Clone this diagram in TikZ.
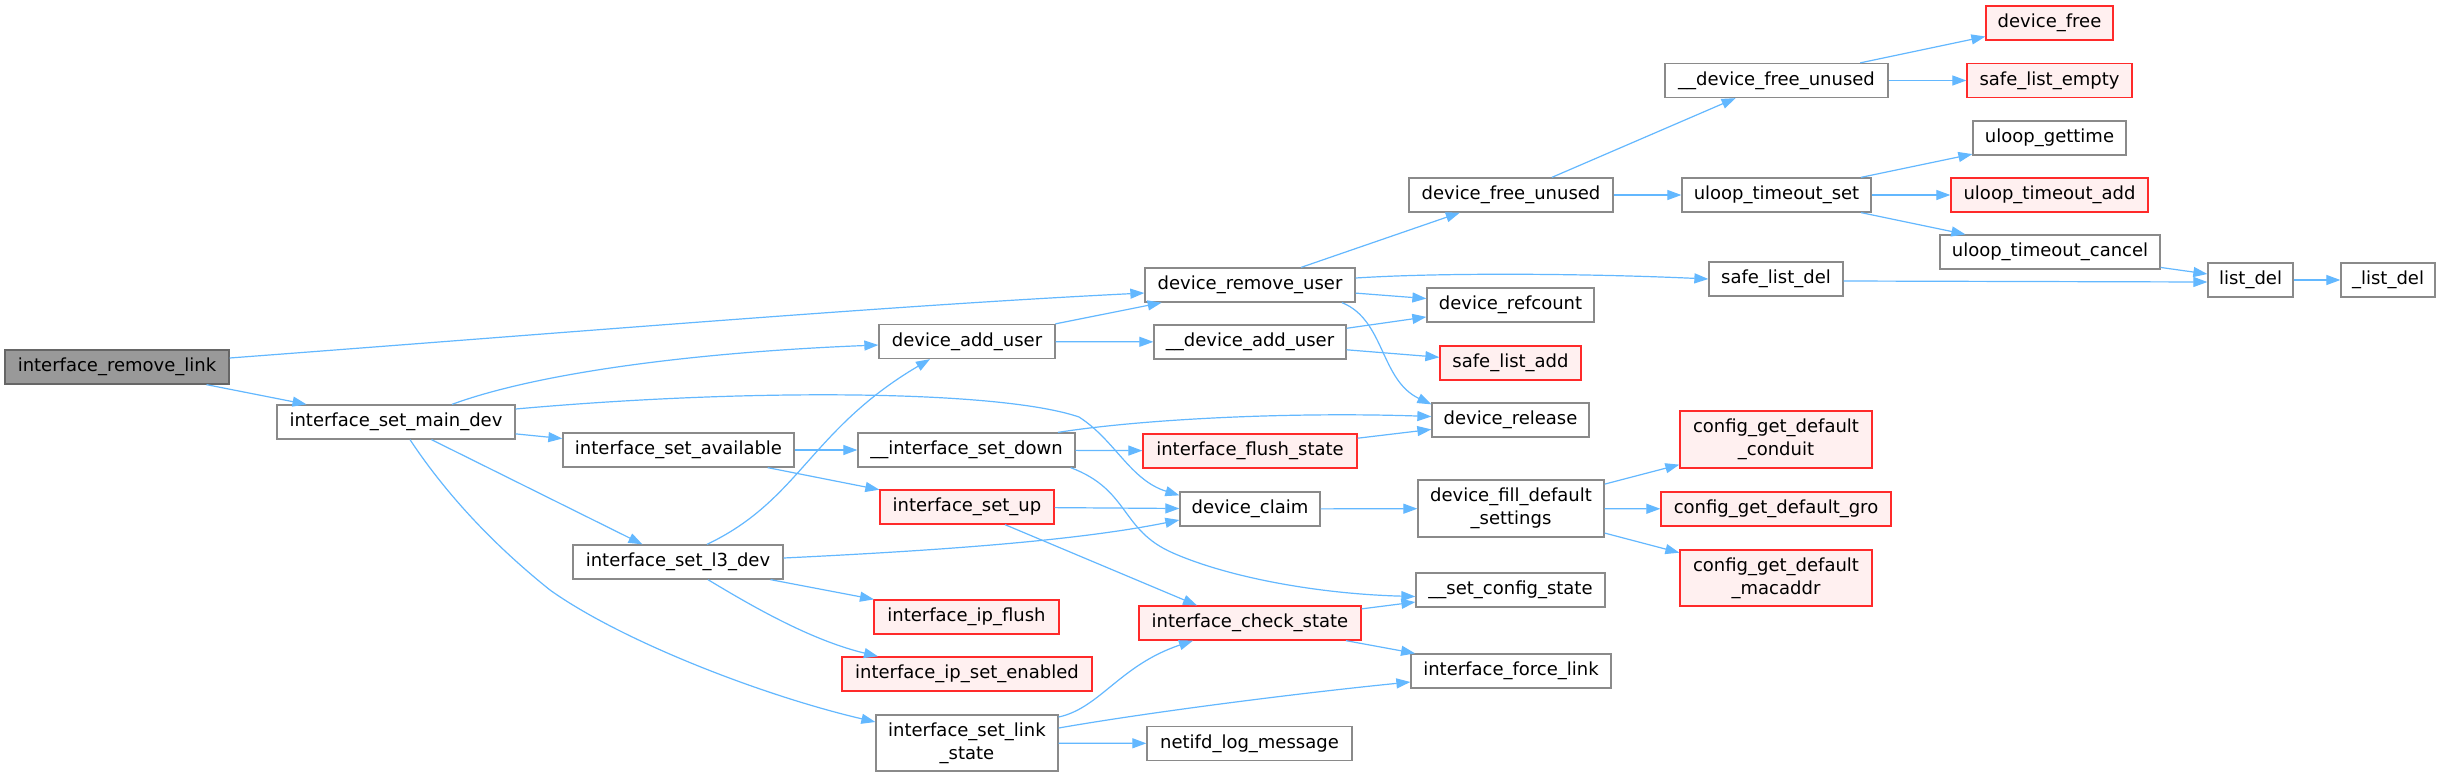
\documentclass[tikz,border=0pt]{standalone}
\usepackage{fontspec}
\setmainfont{DejaVu Sans}
\usetikzlibrary{arrows.meta}
\definecolor{edgeblue}{HTML}{63B8FF}
\definecolor{boxgray}{HTML}{8A8A8A}
\definecolor{redfill}{HTML}{FFF0F0}
\definecolor{redline}{HTML}{FF2A2A}
\definecolor{rootfill}{HTML}{999999}
\definecolor{rootdraw}{HTML}{666666}
\newcommand\nodefont{\fontsize{18pt}{23pt}\selectfont}
\tikzset{
  fnbox/.style={draw=boxgray, fill=white, line width=1.3pt, inner sep=0pt,
    minimum height=34pt, font=\nodefont, align=center, text=black},
  fnred/.style={fnbox, draw=redline, fill=redfill},
  rootbox/.style={fnbox, fill=rootfill, draw=rootdraw},
  callarrow/.style={draw=edgeblue, line width=1.2pt, -{Triangle[length=14pt,width=10pt]}},
}
\begin{document}
\begin{tikzpicture}[x=1pt,y=-1pt]
\useasboundingbox[fill=white] (0,0) rectangle (2441,777);
% column 0-2
\node[rootbox, minimum width=224pt] (rl) at (117,367) {interface\_remove\_link};
\node[fnbox, minimum width=238pt] (md) at (396,422) {interface\_set\_main\_dev};
\node[fnbox, minimum width=231pt] (sa) at (678.5,450) {interface\_set\_available};
\node[fnbox, minimum width=210pt] (l3) at (678,562) {interface\_set\_l3\_dev};
% column 3
\node[fnbox, minimum width=176pt] (dau) at (967,341.5) {device\_add\_user};
\node[fnbox, minimum width=217pt] (isd) at (966.5,450) {\_\_interface\_set\_down};
\node[fnred, minimum width=174pt] (isu) at (967,507) {interface\_set\_up};
\node[fnred, minimum width=185pt] (ipf) at (966.5,617) {interface\_ip\_flush};
\node[fnred, minimum width=250pt] (ipse) at (967,674) {interface\_ip\_set\_enabled};
\node[fnbox, minimum width=182pt, minimum height=56pt] (ls) at (967,743) {interface\_set\_link\\\_state};
% column 4
\node[fnbox, minimum width=210pt] (drm) at (1250,285) {device\_remove\_user};
\node[fnbox, minimum width=192pt] (dau2) at (1250,342) {\_\_device\_add\_user};
\node[fnred, minimum width=214pt] (ifs) at (1250,451) {interface\_flush\_state};
\node[fnbox, minimum width=140pt] (dc) at (1250,509) {device\_claim};
\node[fnred, minimum width=222pt] (ics) at (1250,623) {interface\_check\_state};
\node[fnbox, minimum width=205pt] (nlm) at (1249.5,743.5) {netifd\_log\_message};
% column 5
\node[fnbox, minimum width=204pt] (dfu) at (1511,195) {device\_free\_unused};
\node[fnbox, minimum width=167pt] (drc) at (1510.5,305) {device\_refcount};
\node[fnred, minimum width=141pt] (sla) at (1510.5,363) {safe\_list\_add};
\node[fnbox, minimum width=157pt] (drel) at (1510.5,420) {device\_release};
\node[fnbox, minimum width=186pt, minimum height=57pt] (dfds) at (1511,508.5) {device\_fill\_default\\\_settings};
\node[fnbox, minimum width=189pt] (scs) at (1510.5,590) {\_\_set\_config\_state};
\node[fnbox, minimum width=200pt] (ifl) at (1511,671) {interface\_force\_link};
% column 6
\node[fnbox, minimum width=223pt] (dfu2) at (1776.5,80.5) {\_\_device\_free\_unused};
\node[fnbox, minimum width=189pt] (uts) at (1776.5,195) {uloop\_timeout\_set};
\node[fnbox, minimum width=134pt] (sld) at (1776,279) {safe\_list\_del};
\node[fnred, minimum width=192pt, minimum height=57pt] (cgc) at (1776,439.5) {config\_get\_default\\\_conduit};
\node[fnred, minimum width=230pt] (cgg) at (1776,509) {config\_get\_default\_gro};
\node[fnred, minimum width=192pt, minimum height=56pt] (cgm) at (1776,578) {config\_get\_default\\\_macaddr};
% column 7
\node[fnred, minimum width=127pt] (dfree) at (2049.5,23) {device\_free};
\node[fnred, minimum width=165pt] (sle) at (2049.5,80.5) {safe\_list\_empty};
\node[fnbox, minimum width=153pt] (ugt) at (2049.5,138) {uloop\_gettime};
\node[fnred, minimum width=197pt] (uta) at (2049.5,195) {uloop\_timeout\_add};
\node[fnbox, minimum width=220pt] (utc) at (2050,252) {uloop\_timeout\_cancel};
% column 8-9
\node[fnbox, minimum width=85pt] (ld) at (2250.5,280) {list\_del};
\node[fnbox, minimum width=94pt] (uld) at (2388,280) {\_list\_del};
% edges
\draw[callarrow] ([yshift=9pt]rl.east) .. controls (600,330) and (900,305) .. ([yshift=-8pt]drm.west);
\draw[callarrow] (rl) -- (md);
\draw[callarrow] ([xshift=56pt]md.north) .. controls (540,372) and (700,352) .. ([yshift=-3.5pt]dau.west);
\draw[callarrow] ([yshift=13pt]md.east) .. controls (750,388) and (1000,390) .. (1079,417)
   .. controls (1115,440) and (1130,480) .. ([yshift=-4pt]dc.north west);
\draw[callarrow] (md) -- (sa);
\draw[callarrow] (md) -- (l3);
\draw[callarrow] ([xshift=14pt]md.south) .. controls (450,500) and (500,550) .. (550,590)
   .. controls (620,640) and (760,695) .. ([yshift=21pt]ls.west);
\draw[callarrow] (sa) -- (isd);
\draw[callarrow] (sa) -- (isu);
\draw[callarrow] ([xshift=29pt]l3.north) .. controls (800,500) and (810,430) .. ([xshift=-37pt]dau.south);
\draw[callarrow] ([yshift=4pt]l3.east) .. controls (950,550) and (1080,540) .. ([yshift=-11pt]dc.west);
\draw[callarrow] (l3) -- (ipf);
\draw[callarrow] ([xshift=30pt]l3.south) .. controls (750,605) and (810,640) .. ([xshift=-89pt]ipse.north);
\draw[callarrow] (dau) -- (drm);
\draw[callarrow] (dau) -- (dau2);
\draw[callarrow] (drm) -- (dfu);
\draw[callarrow] ([yshift=7pt]drm.east) .. controls (1450,272) and (1600,274) .. (sld.west);
\draw[callarrow] (drm) -- (drc);
\draw[callarrow] ([xshift=92pt]drm.south) .. controls (1385,320) and (1380,380) .. ([yshift=-2pt]drel.north west);
\draw[callarrow] (dau2) -- (drc);
\draw[callarrow] (dau2) -- (sla);
\draw[callarrow] ([xshift=91.5pt]isd.north) .. controls (1150,418) and (1300,412) .. ([yshift=3.5pt]drel.west);
\draw[callarrow] (isd) -- (ifs);
\draw[callarrow] ([xshift=-5pt]isd.south east) .. controls (1130,490) and (1120,530) .. (1173,553)
   .. controls (1230,578) and (1320,594) .. ([yshift=-6.5pt]scs.west);
\draw[callarrow] (ifs) -- (drel);
\draw[callarrow] (isu) -- (dc);
\draw[callarrow] ([xshift=38pt]isu.south) -- ([xshift=-53pt]ics.north);
\draw[callarrow] (dc) -- (dfds);
\draw[callarrow] (dfds) -- (cgc);
\draw[callarrow] (dfds) -- (cgg);
\draw[callarrow] (dfds) -- (cgm);
\draw[callarrow] (ics) -- (scs);
\draw[callarrow] (ics) -- (ifl);
\draw[callarrow] ([yshift=26pt]ls.east) .. controls (1100,708) and (1120,665) .. ([xshift=-57pt]ics.south);
\draw[callarrow] ([yshift=15pt]ls.east) .. controls (1150,712) and (1300,693) .. ([yshift=-11pt]ifl.west);
\draw[callarrow] (ls) -- (nlm);
\draw[callarrow] (dfu) -- (dfu2);
\draw[callarrow] (dfu) -- (uts);
\draw[callarrow] (dfu2) -- (dfree);
\draw[callarrow] (dfu2) -- (sle);
\draw[callarrow] (uts) -- (ugt);
\draw[callarrow] (uts) -- (uta);
\draw[callarrow] (uts) -- (utc);
\draw[callarrow] (utc) -- (ld);
\draw[callarrow] ([yshift=-2pt]sld.east) -- ([yshift=-2pt]ld.west);
\draw[callarrow] (ld) -- (uld);
\end{tikzpicture}
\end{document}
